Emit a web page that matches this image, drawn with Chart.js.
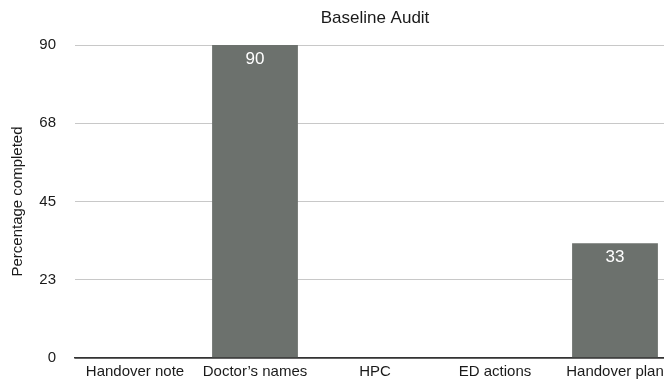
<!DOCTYPE html>
<html>
<head>
<meta charset="utf-8">
<script src="https://cdn.jsdelivr.net/npm/chart.js@4/dist/chart.umd.min.js"></script>
<style>
  html, body { margin: 0; padding: 0; background: #fff; overflow: hidden; }
  #wrap { width: 664px; height: 380px; overflow: hidden; }
</style>
</head>
<body>
<div id="wrap"><canvas id="audit-chart" width="678" height="388"></canvas></div>
<script>
const categories = ['Handover note', 'Doctor\u2019s names', 'HPC', 'ED actions', 'Handover plan']
const completed = [0, 90, 0, 0, 33]
const yTicks = [0, 22.5, 45, 67.5, 90]

const FONT = '"Liberation Sans", Arial, sans-serif'
Chart.defaults.font.family = FONT
Chart.defaults.color = '#1a1a1a'

// white value labels near the top of each bar
const valueLabels = {
  id: 'valueLabels',
  afterDatasetsDraw (chart) {
    const c = chart.ctx
    const meta = chart.getDatasetMeta(0)
    c.save()
    c.fillStyle = '#ffffff'
    c.font = '17px ' + FONT
    c.textAlign = 'center'
    c.textBaseline = 'middle'
    meta.data.forEach((bar, i) => {
      const v = completed[i]
      if (!v) return
      c.fillText(String(v), bar.x, bar.y + 14)
    })
    c.restore()
  }
}

const ctx = document.getElementById('audit-chart')

new Chart(ctx, {
  type: 'bar',
  data: {
    labels: categories,
    datasets: [{
      label: 'Percentage completed',
      data: completed,
      backgroundColor: '#6c716d',
      categoryPercentage: 1,
      barPercentage: 0.715
    }]
  },
  options: {
    responsive: false,
    animation: false,
    layout: { padding: { left: 0, right: 3, top: 0, bottom: 2 } },
    plugins: {
      legend: { display: false },
      tooltip: { enabled: false },
      title: {
        display: true,
        fullSize: false,
        text: 'Baseline Audit',
        color: '#1a1a1a',
        font: { size: 17, weight: 'normal' },
        padding: { top: 8, bottom: 16.6 }
      }
    },
    scales: {
      x: {
        grid: { display: false, drawTicks: false },
        border: { display: true, color: '#333', width: 1.5 },
        ticks: { font: { size: 15 }, padding: 5, maxRotation: 0, autoSkip: false }
      },
      y: {
        min: 0,
        max: 90,
        afterBuildTicks: (scale) => { scale.ticks = yTicks.map(v => ({ value: v })) },
        afterFit: (scale) => { scale.width = 75 },
        ticks: {
          font: { size: 15 },
          padding: 19,
          callback: (v) => Math.round(v)
        },
        grid: {
          color: (c) => c.tick && c.tick.value === 0 ? '#333' : '#c8c8c8',
          lineWidth: (c) => c.tick && c.tick.value === 0 ? 1.5 : 1,
          drawTicks: false
        },
        border: { display: false },
        title: {
          display: true,
          text: 'Percentage completed',
          font: { size: 15 },
          padding: { top: 9, bottom: 0 }
        }
      }
    }
  },
  plugins: [valueLabels]
})
</script>
</body>
</html>
